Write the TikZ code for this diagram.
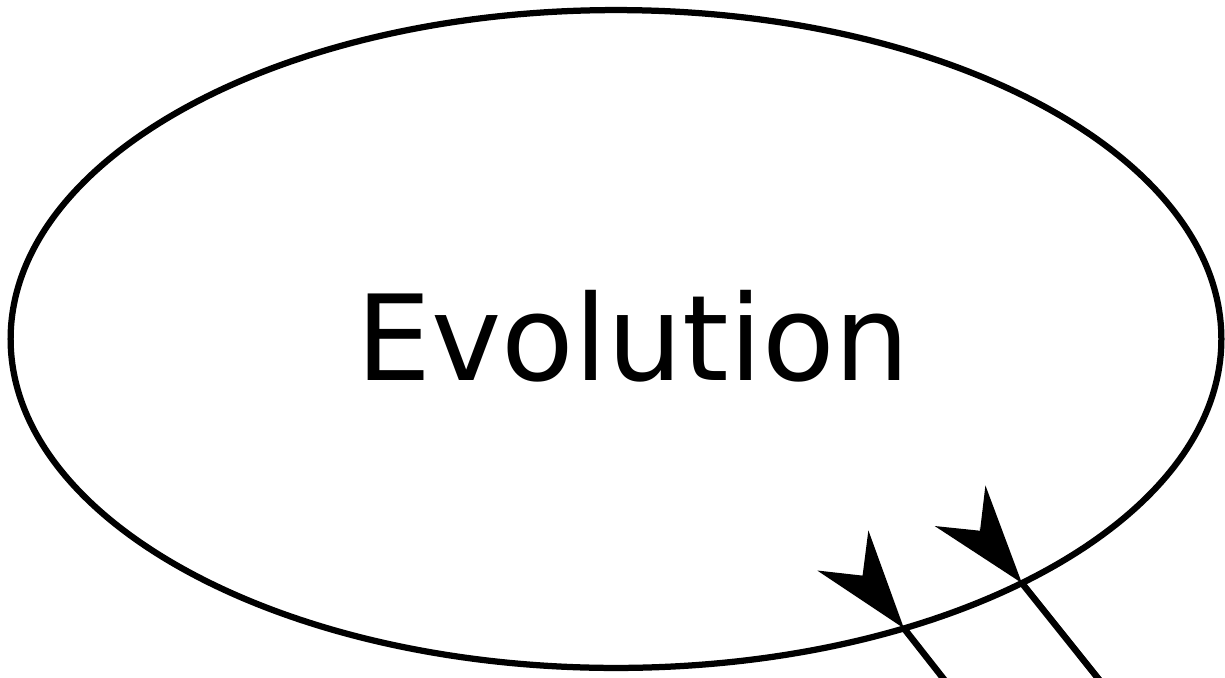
\documentclass[tikz,border=0pt]{standalone}
\usepackage{fontspec}
\usetikzlibrary{arrows.meta,calc,shapes.geometric}
\newfontfamily\ovalfont{DejaVu Sans}
\newcommand{\ovalsize}{\fontsize{67.6}{80}\selectfont}
\tikzset{
  ovalpic/.style={x=0.02cm, y=-0.02cm},
  % the big oval
  bigoval/.style={ellipse, draw=black, line width=0.125cm, inner sep=0pt,
                  outer sep=0pt, minimum width=24.22cm, minimum height=13.16cm},
  % the name written in it
  ovaltext/.style={font=\ovalfont\ovalsize, inner sep=0pt, anchor=base},
  % a loose link that leaves the oval
  link/.style={draw=black, line width=0.13cm},
  % its barbed head, sitting just inside the oval
  linkhead/.style={link,
    -{Stealth[length=1.98cm,width=1.30cm,inset=0.64cm,line width=0pt]}},
}

\begin{document}
\begin{tikzpicture}[ovalpic]
  \useasboundingbox (0,0) rectangle (1225,677);

  \node[bigoval] (evo) at (616,339) {};
  \node[ovaltext] (evolbl) at (633,380) {Evolution};

  % where the two links meet the oval, and their free ends below the page
  \coordinate (ina) at ($(evo.center)+(61.6:605.4 and 328.9)$);
  \coordinate (inb) at ($(evo.center)+(47.9:605.4 and 328.9)$);
  \coordinate (outa) at (950,687);
  \coordinate (outb) at (1105,687);

  \draw[link] (ina) -- (outa);
  \draw[linkhead] ($(ina)!-1.34cm!(outa)$) -- (ina);
  \draw[link] (inb) -- (outb);
  \draw[linkhead] ($(inb)!-1.34cm!(outb)$) -- (inb);
\end{tikzpicture}
\end{document}
